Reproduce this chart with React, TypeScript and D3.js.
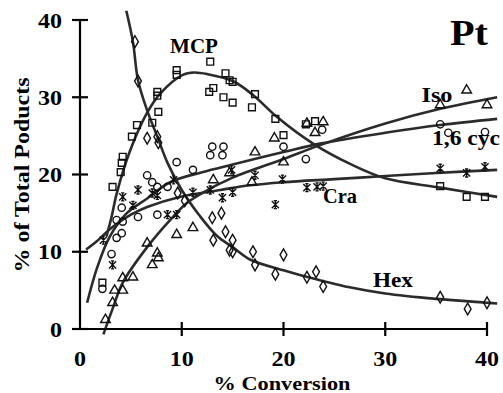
import React from "react";
import * as d3 from "d3";

const xTicks = [0, 10, 20, 30, 40];
const yTicks = [0, 10, 20, 30, 40];

// fitted curves (x = % conversion, y = % of total products)
const mcpCurve: [number, number][] = [[2.6, 12.0], [3.1, 14.5], [3.6, 17.5], [4.9, 23.0], [6.6, 28.0], [7.9, 30.5], [10.1, 32.9], [11.2, 33.2], [12.5, 33.0], [15, 32.1], [17, 30.3], [19.4, 27.4], [22.9, 24.0], [26.5, 21.4], [30, 19.5], [35.4, 18.3], [41, 17.1]];
const hexCurve: [number, number][] = [[4.55, 41.2], [5.2, 37.2], [5.7, 32.2], [6.6, 28.3], [7.6, 24.9], [8.6, 21.5], [10, 18.0], [11.8, 14.6], [13.5, 12.0], [15, 10.6], [16.7, 9.0], [20, 7.6], [21.6, 7.0], [26.5, 5.4], [30, 4.6], [35, 3.9], [40, 3.4], [41, 3.3]];
const craCurve: [number, number][] = [[0.6, 10.3], [1.5, 11.2], [3.2, 13.2], [5, 14.8], [6.6, 15.8], [9.8, 17.1], [13.8, 18.0], [16.7, 18.6], [20, 19.0], [25, 19.4], [30, 19.8], [35, 20.2], [41, 20.6]];
const isoCurve: [number, number][] = [[2.3, -0.7], [3.2, 2.6], [4.2, 6.0], [6.6, 10.6], [8.85, 14.1], [10.5, 16.3], [12, 17.6], [15, 19.6], [20, 22.0], [23.6, 23.8], [30, 26.6], [35.4, 28.5], [41, 30.0]];
const cycCurve: [number, number][] = [[0.7, 3.4], [1.7, 8.0], [2.9, 11.9], [4.6, 15.0], [6.6, 16.9], [8.85, 19.0], [12, 20.3], [15, 21.3], [20, 22.9], [23.6, 24.0], [30, 25.4], [35.4, 26.4], [41, 27.2]];

// measured points
const mcpPts: [number, number][] = [[9.5, 33.5], [9.5, 32.9], [12.8, 34.6], [14.3, 33.1], [14.7, 32.2], [15.0, 32.0], [13.1, 31.2], [12.7, 30.7], [14.1, 30.0], [15.0, 29.3], [17.2, 30.4], [16.9, 28.7], [19.2, 27.2], [20.0, 25.1], [22.2, 26.5], [23.1, 26.9], [35.4, 18.5], [38.0, 17.1], [39.8, 17.1], [7.6, 30.7], [7.6, 30.2], [7.7, 28.1], [7.1, 26.7], [5.6, 26.4], [5.1, 24.9], [4.2, 22.3], [4.1, 21.5], [4.0, 20.3], [3.2, 18.4], [2.2, 6.0]];
const hexPts: [number, number][] = [[5.4, 37.2], [5.7, 32.1], [6.6, 24.7], [7.6, 24.9], [7.7, 24.1], [9.6, 17.6], [10.3, 16.6], [13.0, 14.4], [13.9, 15.0], [14.3, 12.6], [13.1, 11.5], [15.0, 11.5], [14.7, 10.2], [15.0, 10.0], [17.0, 10.0], [17.2, 8.3], [20.0, 9.6], [19.2, 7.1], [22.3, 6.7], [23.2, 7.4], [23.9, 5.5], [35.4, 4.1], [38.1, 2.6], [40.0, 3.4]];
const craPts: [number, number][] = [[35.4, 20.8], [38.0, 20.2], [39.8, 21.0], [19.9, 19.4], [22.3, 18.3], [23.3, 18.4], [23.9, 18.5], [19.2, 16.1], [17.2, 19.9], [14.9, 20.6], [15.0, 17.7], [14.0, 17.0], [12.8, 18.0], [11.1, 17.7], [9.2, 19.3], [4.2, 17.1], [5.7, 18.0], [7.1, 17.6], [5.2, 16.0], [3.2, 8.3], [2.3, 11.5], [8.6, 14.8], [7.6, 17.3], [9.5, 14.8]];
const isoPts: [number, number][] = [[35.4, 29.0], [38.0, 30.9], [40.0, 29.0], [23.9, 26.8], [23.1, 25.4], [22.3, 26.6], [19.1, 24.7], [17.2, 22.9], [20.0, 21.6], [13.1, 19.3], [16.9, 19.0], [14.7, 20.2], [9.5, 12.2], [7.6, 9.8], [7.7, 9.2], [7.1, 8.3], [6.6, 11.1], [5.2, 6.7], [4.2, 6.6], [3.4, 5.0], [3.2, 3.4], [2.5, 1.2], [4.2, 5.0], [11.1, 13.1]];
const cycPts: [number, number][] = [[35.4, 26.5], [36.2, 25.4], [39.8, 25.5], [13.0, 23.6], [14.1, 23.6], [12.8, 22.5], [14.0, 22.5], [9.5, 21.6], [11.1, 20.6], [20.0, 23.6], [22.2, 22.0], [23.8, 25.8], [6.6, 19.9], [7.1, 19.0], [7.6, 18.4], [8.6, 18.4], [5.7, 14.5], [7.6, 14.8], [4.1, 15.7], [3.6, 14.1], [3.1, 9.7], [2.2, 5.2], [3.6, 11.8], [4.1, 12.4], [4.2, 13.9]];

const W = 503;
const H = 393;

export default function App() {
  const x = d3.scaleLinear().domain([0, 40]).range([80, 487]);
  const y = d3.scaleLinear().domain([0, 40]).range([329, 20]);
  const line = d3
    .line<[number, number]>()
    .x((d) => x(d[0]))
    .y((d) => y(d[1]))
    .curve(d3.curveCatmullRom.alpha(0.5));

  const curves = [mcpCurve, hexCurve, craCurve, isoCurve, cycCurve];
  const sq = d3.symbol().type(d3.symbolSquare).size(46)() as string;
  const ci = d3.symbol().type(d3.symbolCircle).size(42)() as string;
  const tr = d3.symbol().type(d3.symbolTriangle).size(40)() as string;
  const di = d3.symbol().type(d3.symbolDiamond).size(40)() as string;
  const r = 3.6;
  const ast = `M${-r},${-r}L${r},${r}M${-r},${r}L${r},${-r}M0,${-r - 0.6}L0,${r + 0.6}M-1.6,${-r - 0.4}L1.6,${-r - 0.4}M-1.6,${r + 0.4}L1.6,${r + 0.4}`;

  const series: { pts: [number, number][]; path: string }[] = [
    { pts: mcpPts, path: sq },
    { pts: hexPts, path: di },
    { pts: craPts, path: ast },
    { pts: isoPts, path: tr },
    { pts: cycPts, path: ci },
  ];

  const font = "'Liberation Serif', 'Times New Roman', Times, serif";
  const T = (p: { x: number; y: number; size: number; len?: number; anchor?: string; children: string }) => (
    <text
      x={p.x}
      y={p.y}
      textAnchor={p.anchor || "middle"}
      fontSize={p.size}
      fontWeight="bold"
      style={{ fontFamily: font }}
      textLength={p.len}
      lengthAdjust={p.len ? "spacingAndGlyphs" : undefined}
    >
      {p.children}
    </text>
  );

  return (
    <svg width={W} height={H} style={{ position: "absolute", left: 0, top: 0, background: "#fff", fontFamily: font }}>
      <rect x={0} y={0} width={W} height={H} fill="#fff" />
      {curves.map((c, i) => (
        <path key={i} d={line(c) as string} fill="none" stroke="#2b2b2b" strokeWidth={2.6} />
      ))}
      {series.map((s, i) =>
        s.pts.map((p, j) => (
          <path
            key={`${i}-${j}`}
            d={s.path}
            transform={`translate(${x(p[0])},${y(p[1])})`}
            fill="none"
            stroke="#111"
            strokeWidth={1.4}
          />
        ))
      )}
      {/* axes */}
      <line x1={x(0)} x2={x(0)} y1={y(40)} y2={y(0)} stroke="#000" strokeWidth={2.2} />
      <line x1={x(0) - 1} x2={x(40)} y1={y(0)} y2={y(0)} stroke="#000" strokeWidth={2.2} />
      {yTicks.map((t) => (
        <g key={`y${t}`}>
          <line x1={x(0) - 8} x2={x(0) + 8} y1={y(t)} y2={y(t)} stroke="#000" strokeWidth={2.2} />
          <T x={62} y={y(t) + 7.5} size={21} anchor="end" len={t === 0 ? 12 : 24}>{String(t)}</T>
        </g>
      ))}
      {xTicks.map((t) => (
        <g key={`x${t}`}>
          {t > 0 && <line x1={x(t)} x2={x(t)} y1={y(0) - 7} y2={y(0) + 7} stroke="#000" strokeWidth={2.2} />}
          <T x={x(t)} y={366} size={20} len={t === 0 ? 12 : 24}>{String(t)}</T>
        </g>
      ))}
      <T x={282} y={390} size={18} len={137}>% Conversion</T>
      <g transform="translate(29,175) rotate(-90)">
        <T x={0} y={0} size={20} len={195}>% of Total Poducts</T>
      </g>
      {/* labels */}
      <T x={194} y={53} size={22} len={48}>MCP</T>
      <T x={469} y={45} size={36} len={38}>Pt</T>
      <T x={437} y={102} size={21} len={31}>Iso</T>
      <T x={466} y={145} size={21} len={68}>1,6 cyc</T>
      <T x={340} y={203} size={21} len={34}>Cra</T>
      <T x={393} y={287} size={22} len={40}>Hex</T>
    </svg>
  );
}
